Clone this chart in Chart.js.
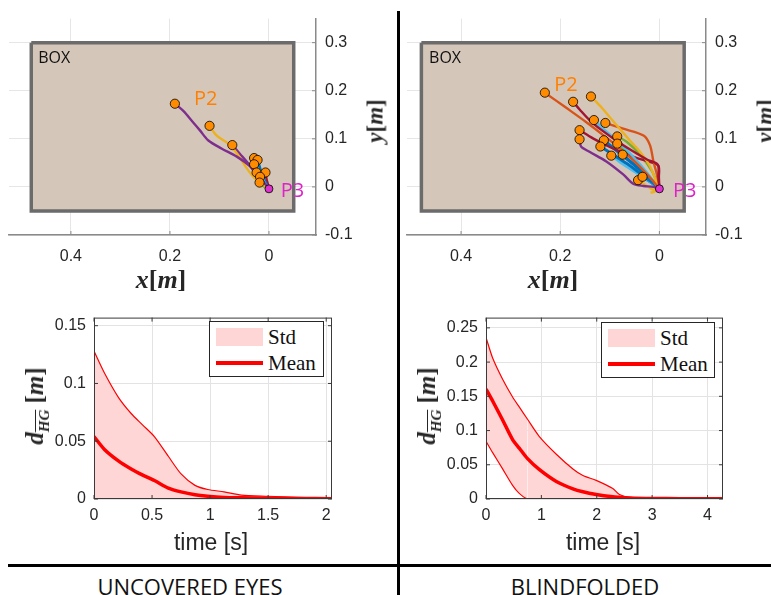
<!DOCTYPE html>
<html>
<head>
<meta charset="utf-8">
<script src="https://cdn.jsdelivr.net/npm/chart.js@4.4.1/dist/chart.umd.min.js"></script>
<style>
  html, body { margin: 0; padding: 0; background: #fff; }
  #page { position: relative; width: 771px; height: 595px; overflow: hidden; background: #fff; }
  canvas { position: absolute; }
  .txt { position: absolute; white-space: nowrap; line-height: 1; }
  .c { transform: translate(-50%, -50%); }
  .rot { transform: translate(-50%, -50%) rotate(-90deg); }
  .math { font-family: "Liberation Serif", "DejaVu Serif", serif; font-weight: bold; color: #262626; }
  .math i { font-style: italic; }
  .sans { font-family: "Liberation Sans", Arial, sans-serif; color: #262626; }
  .caption { font-family: "Open Sans", "Liberation Sans", sans-serif; color: #111; font-size: 22px; }
  .rule { position: absolute; background: #000; }
  .legend { position: absolute; box-sizing: border-box; border: 1px solid #262626; background: #fff; }
  .legend .patch { position: absolute; background: #ffd6d6; }
  .legend .line { position: absolute; background: #ff0000; }
  .legend .lab { position: absolute; font-family: "Liberation Serif", serif; font-size: 21px; color: #111; line-height: 1; transform: translateY(-50%); }
</style>
</head>
<body>
<div id="page">
  <canvas id="openPath" width="390" height="300" style="left:0;top:0"></canvas>
  <canvas id="blindPath" width="381" height="300" style="left:390px;top:0"></canvas>
  <canvas id="openDist" width="390" height="265" style="left:0;top:300px"></canvas>
  <canvas id="blindDist" width="371" height="265" style="left:400px;top:300px"></canvas>

  <!-- axis titles -->
  <div class="txt c math" style="left:161px;top:280px;font-size:26px"><i>x</i>[<i>m</i>]</div>
  <div class="txt c math" style="left:553px;top:280px;font-size:26px"><i>x</i>[<i>m</i>]</div>
  <div class="txt rot math" style="left:375px;top:121px;font-size:23px"><i>y</i>[<i>m</i>]</div>
  <div class="txt rot math" style="left:765px;top:121px;font-size:23px"><i>y</i>[<i>m</i>]</div>

  <div class="txt c sans" style="left:211px;top:542px;font-size:23px">time [s]</div>
  <div class="txt c sans" style="left:603px;top:542px;font-size:23px">time [s]</div>
  <div class="txt rot math" style="left:37px;top:406px;font-size:25px"><i>d</i><sub style="font-size:15px;text-decoration:overline"><i>HG</i></sub>&nbsp;[<i>m</i>]</div>
  <div class="txt rot math" style="left:429px;top:406px;font-size:25px"><i>d</i><sub style="font-size:15px;text-decoration:overline"><i>HG</i></sub>&nbsp;[<i>m</i>]</div>

  <!-- legends -->
  <div class="legend" style="left:209px;top:321px;width:115px;height:56px">
    <div class="patch" style="left:6px;top:6px;width:47px;height:18px"></div>
    <div class="lab" style="left:58px;top:15px">Std</div>
    <div class="line" style="left:6px;top:39px;width:47px;height:3.5px"></div>
    <div class="lab" style="left:58px;top:41px">Mean</div>
  </div>
  <div class="legend" style="left:601px;top:322px;width:114px;height:56px">
    <div class="patch" style="left:6px;top:6px;width:47px;height:18px"></div>
    <div class="lab" style="left:58px;top:15px">Std</div>
    <div class="line" style="left:6px;top:39px;width:47px;height:3.5px"></div>
    <div class="lab" style="left:58px;top:41px">Mean</div>
  </div>

  <!-- panel separators and captions -->
  <div class="rule" style="left:397px;top:11px;width:2.5px;height:584px"></div>
  <div class="rule" style="left:8px;top:564px;width:763px;height:2.5px"></div>
  <div class="txt c caption" style="left:190px;top:586px">UNCOVERED EYES</div>
  <div class="txt c caption" style="left:585px;top:586px">BLINDFOLDED</div>
</div>

<script>
// ---------- hand paths (x, y in metres) ----------
const boxX = [0.48, -0.05, -0.05, 0.48, 0.48];
const boxY = [0.30, 0.30, -0.05, -0.05, 0.30];
const goalP3 = [0, -0.004];

// uncovered eyes: one polyline per trial, first point is the start (P2)
const openTraj = [
  [[0.190,0.173],[0.173,0.158],[0.153,0.134],[0.139,0.117],[0.123,0.097],[0.096,0.080],[0.065,0.063],[0.038,0.043],[0.022,0.024],[0.006,0.004],[0,-0.004]],
  [[0.120,0.127],[0.106,0.107],[0.082,0.090],[0.062,0.066],[0.045,0.039],[0.030,0.019],[0.016,0.008],[0.004,-0.001],[0,-0.004]],
  [[0.074,0.087],[0.058,0.068],[0.043,0.050],[0.027,0.028],[0.012,0.010],[0,-0.004]],
  [[0.030,0.060],[0.024,0.042],[0.016,0.024],[0.007,0.006],[0,-0.004]],
  [[0.023,0.056],[0.018,0.038],[0.011,0.018],[0.004,0.003],[0,-0.004]],
  [[0.030,0.047],[0.022,0.030],[0.012,0.013],[0,-0.004]],
  [[0.025,0.030],[0.016,0.016],[0.006,0.003],[0,-0.004]],
  [[0.007,0.030],[0.005,0.017],[0.002,0.005],[0,-0.004]],
  [[0.018,0.021],[0.011,0.010],[0.004,0.001],[0,-0.004]],
  [[0.019,0.009],[0.012,0.002],[0.005,-0.003],[0,-0.004]]
];
const openColors = ['#7E2F8E','#EDB120','#7E2F8E','#4DBEEE','#0072BD','#4DBEEE','#0072BD','#A2142F','#77AC30','#77AC30'];

// blindfolded
const blindTraj = [
  [[0.231,0.196],[0.190,0.166],[0.148,0.135],[0.110,0.105],[0.080,0.080],[0.045,0.048],[0.015,0.015],[0,-0.004]],
  [[0.174,0.177],[0.160,0.160],[0.140,0.138],[0.115,0.117],[0.085,0.095],[0.055,0.075],[0.025,0.057],[0.003,0.046],[0.002,0.020],[0,-0.004]],
  [[0.138,0.188],[0.120,0.169],[0.100,0.145],[0.080,0.121],[0.060,0.097],[0.039,0.073],[0.020,0.045],[0.009,0.018],[0.004,0.000],[0.010,-0.010],[0.018,-0.012]],
  [[0.132,0.139],[0.110,0.118],[0.085,0.095],[0.055,0.065],[0.025,0.030],[0.005,0.002],[0,-0.004]],
  [[0.109,0.133],[0.073,0.121],[0.032,0.107],[0.019,0.087],[0.012,0.053],[0.005,0.026],[0,-0.004]],
  [[0.161,0.118],[0.134,0.101],[0.100,0.083],[0.075,0.072],[0.045,0.060],[0.020,0.052],[0.002,0.044],[0.001,0.020],[0,-0.004]],
  [[0.161,0.099],[0.158,0.084],[0.141,0.073],[0.107,0.053],[0.073,0.026],[0.052,0.006],[0.032,0.002],[0.012,0.000],[0,-0.004]],
  [[0.112,0.097],[0.080,0.070],[0.050,0.045],[0.025,0.022],[0.006,0.004],[0,-0.004]],
  [[0.085,0.105],[0.066,0.094],[0.039,0.067],[0.015,0.033],[0.003,0.004],[0,-0.004]],
  [[0.085,0.090],[0.065,0.070],[0.040,0.045],[0.015,0.015],[0,-0.004]],
  [[0.119,0.084],[0.095,0.068],[0.065,0.048],[0.035,0.025],[0.010,0.006],[0,-0.004]],
  [[0.097,0.065],[0.075,0.048],[0.045,0.028],[0.015,0.008],[0,-0.004]],
  [[0.074,0.067],[0.055,0.050],[0.030,0.028],[0.010,0.008],[0,-0.004]],
  [[0.043,0.014],[0.028,0.004],[0.012,-0.006],[0,-0.004]],
  [[0.034,0.021],[0.015,0.008],[0,-0.004]]
];
const blindColors = ['#D95319','#A2142F','#EDB120','#4DBEEE','#D95319','#A2142F','#7E2F8E','#0072BD','#77AC30','#77AC30','#0072BD','#4DBEEE','#0072BD','#EDB120','#0072BD'];

const pathXTicks = [0, 0.2, 0.4];
const pathYTicks = [-0.1, 0, 0.1, 0.2, 0.3];

// ---------- distance to goal over time ----------
const tOpen = [0, 0.09, 0.21, 0.32, 0.42, 0.52, 0.64, 0.75, 0.87, 0.98, 1.12, 1.27, 1.5, 1.75, 2.05];
const openUpper = [0.128, 0.109, 0.088, 0.074, 0.064, 0.054, 0.037, 0.0217, 0.0118, 0.0082, 0.0062, 0.0034, 0.0024, 0.0015, 0.0006];
const openMean  = [0.054, 0.0429, 0.033, 0.026, 0.0207, 0.016, 0.0095, 0.0062, 0.0037, 0.0024, 0.0014, 0.0011, 0.0008, 0.0005, 0.0002];

const tBlind = [0, 0.12, 0.30, 0.48, 0.60, 0.75, 0.96, 1.27, 1.57, 1.75, 1.99, 2.29, 2.41, 2.6, 3.0, 3.5, 4.28];
const blindUpper = [0.236, 0.206, 0.175, 0.149, 0.1345, 0.1165, 0.0916, 0.0654, 0.0439, 0.0343, 0.0272, 0.0153, 0.0065, 0.0025, 0.0012, 0.0006, 0.0002];
const blindMean  = [0.1607, 0.1432, 0.1154, 0.0868, 0.0744, 0.059, 0.0433, 0.0257, 0.0149, 0.0106, 0.0067, 0.0033, 0.0026, 0.0016, 0.0008, 0.0004, 0.0002];
const blindLower = [0.0844, 0.0677, 0.044, 0.020, 0.0082, 0, 0, 0, 0, 0, 0, 0, 0, 0, 0, 0, 0];

const openDistXTicks = [0, 0.5, 1, 1.5, 2];
const openDistYTicks = [0, 0.05, 0.1, 0.15];
const blindDistXTicks = [0, 1, 2, 3, 4];
const blindDistYTicks = [0, 0.05, 0.1, 0.15, 0.2, 0.25];

// ---------- shared helpers ----------
Chart.defaults.font.family = '"Liberation Sans", Arial, sans-serif';
const RED = '#ff0000';
const TICK_FONT = { family: '"Liberation Sans", Arial, sans-serif', size: 16 };

const fixedTicks = vals => scale => { scale.ticks = vals.map(v => ({ value: v })); };
const label = v => String(v);

// inward tick marks (and optional full frame) on top of the plot
function framePlugin(full, color) {
  return {
    id: 'frame',
    afterDraw(chart) {
      const { ctx, chartArea: a, scales: { x, y } } = chart;
      ctx.save();
      ctx.strokeStyle = color;
      ctx.lineWidth = 1;
      if (full) ctx.strokeRect(a.left + 0.5, a.top + 0.5, a.right - a.left - 1, a.bottom - a.top - 1);
      const L = 4;
      ctx.beginPath();
      x.ticks.forEach(t => {
        const px = x.getPixelForValue(t.value);
        ctx.moveTo(px, a.bottom); ctx.lineTo(px, a.bottom - L);
        if (full) { ctx.moveTo(px, a.top); ctx.lineTo(px, a.top + L); }
      });
      y.ticks.forEach(t => {
        const py = y.getPixelForValue(t.value);
        ctx.moveTo(a.right, py); ctx.lineTo(a.right - L, py);
        if (full) { ctx.moveTo(a.left, py); ctx.lineTo(a.left + L, py); }
      });
      ctx.stroke();
      ctx.restore();
    }
  };
}

// text notes placed in data coordinates
function notesPlugin(items) {
  return {
    id: 'notes',
    afterDatasetsDraw(chart) {
      const { ctx, scales: { x, y } } = chart;
      items.forEach(it => {
        ctx.save();
        ctx.font = it.font;
        ctx.fillStyle = it.color;
        ctx.textAlign = 'left';
        ctx.textBaseline = 'middle';
        ctx.fillText(it.text, x.getPixelForValue(it.x), y.getPixelForValue(it.y));
        ctx.restore();
      });
    }
  };
}

function pathChart(id, trajs, colors, layout, notes) {
  const datasets = [];
  // goal marker P3
  datasets.push({
    data: [{ x: goalP3[0], y: goalP3[1] }],
    pointRadius: 4, pointBackgroundColor: '#dd33cc', pointBorderColor: '#000', pointBorderWidth: 0.8,
    showLine: false, order: 0
  });
  // start markers P2 (first point of every trial)
  datasets.push({
    data: trajs.map(p => ({ x: p[0][0], y: p[0][1] })),
    pointRadius: 4.6, pointBackgroundColor: '#ff8c00', pointBorderColor: '#000', pointBorderWidth: 0.8,
    showLine: false, order: 1
  });
  trajs.forEach((p, i) => datasets.push({
    data: p.map(([x, y]) => ({ x, y })),
    showLine: true, borderColor: colors[i], borderWidth: colors[i] === '#0072BD' ? 3 : 2.4, pointRadius: 0,
    tension: 0.3, fill: false, order: 5
  }));
  // the box outline
  datasets.push({
    data: boxX.map((x, i) => ({ x, y: boxY[i] })),
    showLine: true, borderColor: '#6b6b6b', borderWidth: 3.5, backgroundColor: '#d4c7ba',
    fill: 'shape', pointRadius: 0, tension: 0, order: 10
  });

  return new Chart(document.getElementById(id), {
    type: 'scatter',
    data: { datasets },
    options: {
      responsive: false, animation: false, devicePixelRatio: 1,
      layout: { padding: layout.padding },
      plugins: { legend: { display: false }, tooltip: { enabled: false } },
      scales: {
        x: {
          type: 'linear', reverse: true, min: layout.xMin, max: layout.xMax,
          afterBuildTicks: fixedTicks(pathXTicks),
          afterFit: s => { s.height = layout.xH; },
          grid: { color: '#e6e6e6', drawTicks: false },
          border: { color: '#8a8a8a', width: 1.5 },
          ticks: { color: '#262626', font: TICK_FONT, padding: 12, callback: label, maxRotation: 0, autoSkip: false }
        },
        y: {
          type: 'linear', position: 'right', min: -0.1, max: 0.35,
          afterBuildTicks: fixedTicks(pathYTicks),
          afterFit: s => { s.width = layout.yW; },
          grid: { color: '#e6e6e6', drawTicks: false },
          border: { color: '#8a8a8a', width: 1.5 },
          ticks: { color: '#262626', font: TICK_FONT, padding: 9, callback: label, autoSkip: false }
        }
      }
    },
    plugins: [framePlugin(false, '#8a8a8a'), notesPlugin(notes)]
  });
}

function distChart(id, t, upper, mean, lower, layout) {
  const pts = arr => arr.map((v, i) => ({ x: t[i], y: v }));
  const datasets = [
    { data: pts(mean), borderColor: RED, borderWidth: 3.5, pointRadius: 0, tension: 0.25, fill: false },
    { data: pts(upper), borderColor: RED, borderWidth: 1.2, pointRadius: 0, tension: 0.25,
      backgroundColor: '#ffd6d6', fill: lower ? 2 : 'origin' }
  ];
  if (lower) {
    datasets.push({
      data: pts(lower), borderColor: RED, borderWidth: 1.2, pointRadius: 0, tension: 0.25, fill: false,
      segment: { borderColor: c => (c.p0.parsed.y <= 0 && c.p1.parsed.y <= 0) ? 'rgba(0,0,0,0)' : RED }
    });
  }
  return new Chart(document.getElementById(id), {
    type: 'line',
    data: { datasets },
    options: {
      responsive: false, animation: false, devicePixelRatio: 1,
      layout: { padding: layout.padding },
      plugins: { legend: { display: false }, tooltip: { enabled: false }, filler: { drawTime: 'beforeDatasetsDraw' } },
      scales: {
        x: {
          type: 'linear', min: 0, max: layout.xMax,
          afterBuildTicks: fixedTicks(layout.xTicks),
          afterFit: s => { s.height = 66; },
          grid: { color: '#e3e3e3', drawTicks: false },
          border: { display: false },
          ticks: { color: '#262626', font: TICK_FONT, padding: 7, callback: label, maxRotation: 0, autoSkip: false }
        },
        y: {
          type: 'linear', min: 0, max: layout.yMax,
          afterBuildTicks: fixedTicks(layout.yTicks),
          afterFit: s => { s.width = layout.yW; },
          grid: { color: '#e3e3e3', drawTicks: false },
          border: { display: false },
          ticks: { color: '#262626', font: TICK_FONT, padding: 8, callback: label, autoSkip: false }
        }
      }
    },
    plugins: [framePlugin(true, '#3a3a3a')]
  });
}

const noteFont = '16px "Open Sans", "Liberation Sans", sans-serif';
const pFont = '20px "Open Sans", "Liberation Sans", sans-serif';

pathChart('openPath', openTraj, openColors,
  { padding: { left: 9, top: 13, right: 0, bottom: 0 }, xMin: -0.095, xMax: 0.525, xH: 65, yW: 74 },
  [
    { text: 'BOX', x: 0.466, y: 0.268, font: noteFont, color: '#111' },
    { text: 'P2', x: 0.1515, y: 0.182, font: pFont, color: '#ff8000' },
    { text: 'P3', x: -0.024, y: -0.009, font: pFont, color: '#dd22c8' }
  ]);

pathChart('blindPath', blindTraj, blindColors,
  { padding: { left: 17, top: 13, right: 0, bottom: 0 }, xMin: -0.094, xMax: 0.509, xH: 65, yW: 65 },
  [
    { text: 'BOX', x: 0.4645, y: 0.268, font: noteFont, color: '#111' },
    { text: 'P2', x: 0.212, y: 0.2115, font: pFont, color: '#ff8000' },
    { text: 'P3', x: -0.0276, y: -0.010, font: pFont, color: '#dd22c8' }
  ]);

distChart('openDist', tOpen, openUpper, openMean, null,
  { padding: { left: 0, top: 13, right: 58, bottom: 0 }, xMax: 2.05, yMax: 0.157, yW: 94,
    xTicks: openDistXTicks, yTicks: openDistYTicks });

distChart('blindDist', tBlind, blindUpper, blindMean, blindLower,
  { padding: { left: 0, top: 14, right: 48, bottom: 0 }, xMax: 4.28, yMax: 0.265, yW: 86,
    xTicks: blindDistXTicks, yTicks: blindDistYTicks });
</script>
</body>
</html>
